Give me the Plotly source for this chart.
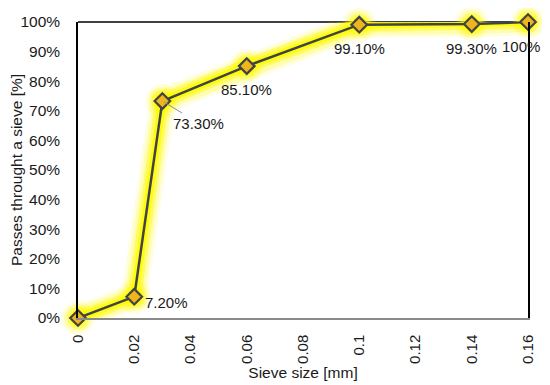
import plotly.graph_objects as go

sieve_mm = [0, 0.02, 0.03, 0.06, 0.1, 0.14, 0.16]
passing_pct = [0, 7.2, 73.3, 85.1, 99.1, 99.3, 100]
label_text = ["", "7.20%", "73.30%", "85.10%", "99.10%", "99.30%", "100%"]
x_ticks = [0, 0.02, 0.04, 0.06, 0.08, 0.1, 0.12, 0.14, 0.16]
x_tick_text = ["0", "0.02", "0.04", "0.06", "0.08", "0.1", "0.12", "0.14", "0.16"]
y_ticks = [0, 10, 20, 30, 40, 50, 60, 70, 80, 90, 100]
y_tick_text = [f"{v}%" for v in y_ticks]

FONT = "Liberation Sans, Arial, sans-serif"
fig = go.Figure()

# glow layers
for w, op in [(26, 0.12), (20, 0.22), (14, 0.45), (8, 0.8)]:
    fig.add_trace(go.Scatter(
        x=sieve_mm, y=passing_pct, mode="lines+markers",
        line=dict(color=f"rgba(255,250,0,{op})", width=w),
        marker=dict(symbol="circle", size=w + 8, color=f"rgba(255,250,0,{op})", line=dict(width=0)),
        hoverinfo="skip", showlegend=False, cliponaxis=False))

fig.add_trace(go.Scatter(
    x=sieve_mm, y=passing_pct, mode="lines+markers",
    line=dict(color="#3f4448", width=2.5),
    marker=dict(symbol="diamond", size=12, color="#f0b41c", line=dict(color="#404448", width=2.2)),
    showlegend=False, cliponaxis=False))

# data labels
offsets = {1: (32, -6), 3: (0, -23), 4: (0, -24), 5: (0, -24), 6: (-7, -24)}
for i, t in enumerate(label_text):
    if not t:
        continue
    if i == 2:
        fig.add_annotation(x=sieve_mm[i], y=passing_pct[i], text=t, showarrow=True,
                           ax=36, ay=22, arrowhead=0, arrowwidth=1, arrowcolor="#8c8c8c",
                           standoff=2, font=dict(family=FONT, size=15, color="#1a1a1a"))
    else:
        dx, dy = offsets[i]
        fig.add_annotation(x=sieve_mm[i], y=passing_pct[i], text=t, showarrow=False,
                           xshift=dx, yshift=dy, font=dict(family=FONT, size=15, color="#1a1a1a"))

# top border
fig.add_shape(type="line", xref="paper", yref="paper", x0=0, x1=1, y0=1, y1=1,
              line=dict(color="black", width=1.5), layer="below")

fig.update_layout(
    width=542, height=377,
    margin=dict(l=70, r=22, t=14, b=67, autoexpand=False),
    paper_bgcolor="white", plot_bgcolor="white",
    font=dict(family=FONT, size=15.5, color="#1a1a1a"),
    xaxis=dict(range=[0, 0.16], tickvals=x_ticks, ticktext=x_tick_text, tickangle=-90,
               tickfont=dict(size=15),
               showgrid=False, zeroline=False, showline=True, linecolor="#8a8a8a", linewidth=1.5,
               ticks="outside", ticklen=9, tickcolor="rgba(0,0,0,0)", automargin=False,
               title=dict(text="Sieve size [mm]", font=dict(size=15.5), standoff=2)),
    yaxis=dict(range=[0, 100], tickvals=y_ticks, ticktext=y_tick_text,
               tickfont=dict(size=15.5),
               showgrid=False, zeroline=False, showline=True, mirror=True, linecolor="black", linewidth=1.5,
               ticks="outside", ticklen=13, tickcolor="rgba(0,0,0,0)", automargin=False,
               title=dict(text="Passes throught a sieve [%]", font=dict(size=15.5), standoff=11)),
)

fig.write_html("out.html")
